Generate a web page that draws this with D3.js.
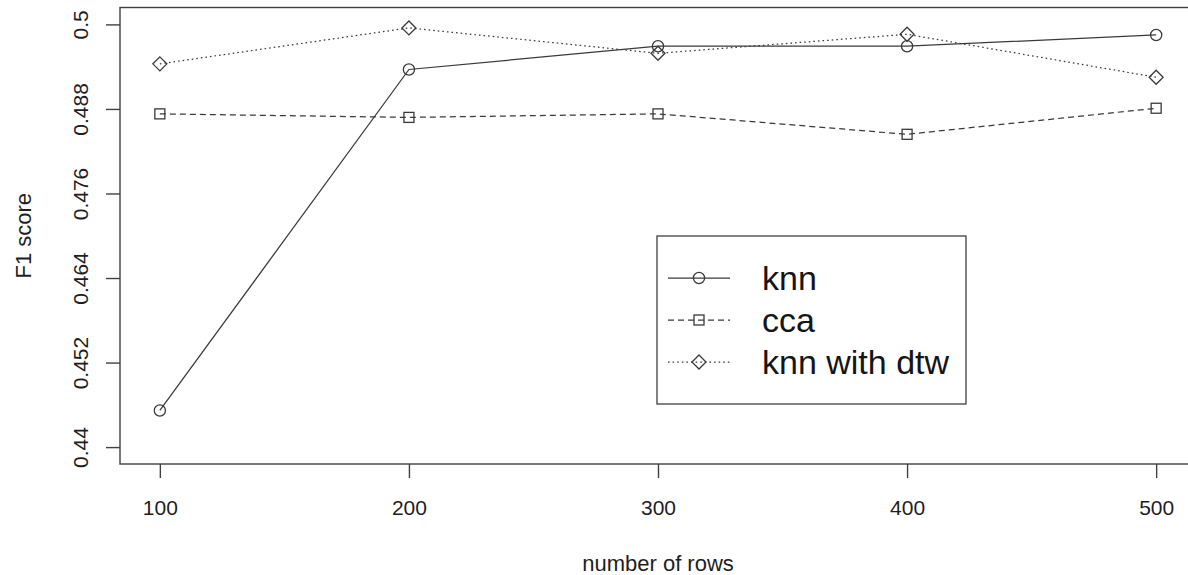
<!DOCTYPE html>
<html>
<head>
<meta charset="utf-8">
<script src="https://cdn.jsdelivr.net/npm/d3@7"></script>
<style>
  html, body { margin: 0; padding: 0; background: #fff; }
  svg { display: block; font-family: "Liberation Sans", Arial, Helvetica, sans-serif; }
</style>
</head>
<body>
<svg id="chart" width="1188" height="575"></svg>
<script>
// Sample sizes (number of rows) on the x axis
const rows = [100, 200, 300, 400, 500];

// F1 score per method
const knnScores = [0.4452, 0.4936, 0.4969, 0.4969, 0.4985];
const ccaScores = [0.4873, 0.4868, 0.4873, 0.4844, 0.4881];
const dtwScores = [0.4944, 0.4995, 0.4959, 0.4986, 0.4925];

// Axis ticks
const xTicks = [100, 200, 300, 400, 500];
const yTicks = [0.44, 0.452, 0.464, 0.476, 0.488, 0.5];
const yTickLabels = ["0.44", "0.452", "0.464", "0.476", "0.488", "0.5"];

const seriesNames = ["knn", "cca", "knn with dtw"];
const seriesValues = [knnScores, ccaScores, dtwScores];
const seriesDash = [null, "6,4", "1.6,3"];
const seriesSymbol = ["circle", "square", "diamond"];

const ink = "#3a3a3a";
const frameInk = "#404040";
const svg = d3.select("#chart");

const plot = { left: 120, right: 1196, top: 7.5, bottom: 464 };

const x = d3.scaleLinear().domain([84, 516]).range([plot.left, plot.right]);
const y = d3.scaleLinear().domain([0.4376, 0.5024]).range([plot.bottom, plot.top]);

// Plot frame
svg.append("rect")
  .attr("x", plot.left).attr("y", plot.top)
  .attr("width", plot.right - plot.left).attr("height", plot.bottom - plot.top)
  .attr("fill", "none").attr("stroke", frameInk).attr("stroke-width", 1.4);

// X axis (ticks below the frame)
const xAxis = d3.axisBottom(x).tickValues(xTicks).tickSize(14).tickPadding(22)
  .tickFormat(d3.format("d"));
const gx = svg.append("g").attr("transform", `translate(0,${plot.bottom})`).call(xAxis);
gx.select(".domain").remove();
gx.selectAll(".tick line").attr("stroke", frameInk).attr("stroke-width", 1.4);
gx.selectAll(".tick text").attr("fill", "#1e1e1e").attr("font-size", 21)
  .attr("font-family", "Liberation Sans, Arial, sans-serif");

// Y axis (labels rotated parallel to the axis)
const yAxis = d3.axisLeft(y).tickValues(yTicks).tickSize(14)
  .tickFormat((d, i) => yTickLabels[i]);
const gy = svg.append("g").attr("transform", `translate(${plot.left},0)`).call(yAxis);
gy.select(".domain").remove();
gy.selectAll(".tick line").attr("stroke", frameInk).attr("stroke-width", 1.4);
gy.selectAll(".tick text")
  .attr("fill", "#1e1e1e").attr("font-size", 21)
  .attr("font-family", "Liberation Sans, Arial, sans-serif")
  .attr("x", null).attr("dy", null)
  .attr("text-anchor", "middle")
  .attr("transform", "translate(-40,0) rotate(-90)")
  .attr("dominant-baseline", "central");

// Axis titles
svg.append("text")
  .attr("x", (plot.left + plot.right) / 2).attr("y", 571)
  .attr("text-anchor", "middle").attr("font-size", 22).attr("fill", "#1e1e1e")
  .text("number of rows");
svg.append("text")
  .attr("transform", `translate(23,${(plot.top + plot.bottom) / 2}) rotate(-90)`)
  .attr("text-anchor", "middle").attr("dominant-baseline", "central")
  .attr("font-size", 22).attr("fill", "#1e1e1e")
  .text("F1 score");

// Marker drawing
function drawSymbol(g, kind, cx, cy) {
  if (kind === "circle") {
    g.append("circle").attr("cx", cx).attr("cy", cy).attr("r", 5.6)
      .attr("fill", "none").attr("stroke", ink).attr("stroke-width", 1.3);
  } else if (kind === "square") {
    const h = 5;
    g.append("rect").attr("x", cx - h).attr("y", cy - h).attr("width", 2 * h).attr("height", 2 * h)
      .attr("fill", "none").attr("stroke", ink).attr("stroke-width", 1.3);
  } else {
    const h = 7;
    g.append("path")
      .attr("d", `M${cx},${cy - h}L${cx + h},${cy}L${cx},${cy + h}L${cx - h},${cy}Z`)
      .attr("fill", "none").attr("stroke", ink).attr("stroke-width", 1.3);
  }
}

// Series lines with overplotted markers
const line = d3.line().x(d => x(d[0])).y(d => y(d[1]));
seriesValues.forEach((vals, s) => {
  const pts = rows.map((r, i) => [r, vals[i]]);
  const g = svg.append("g");
  const p = g.append("path").datum(pts).attr("d", line)
    .attr("fill", "none").attr("stroke", ink).attr("stroke-width", 1.25);
  if (seriesDash[s]) p.attr("stroke-dasharray", seriesDash[s]);
  pts.forEach(d => drawSymbol(g, seriesSymbol[s], x(d[0]), y(d[1])));
});

// Legend
const lg = svg.append("g");
lg.append("rect").attr("x", 657).attr("y", 236).attr("width", 309).attr("height", 168)
  .attr("fill", "#fff").attr("stroke", frameInk).attr("stroke-width", 1.3);
const rowY = [278, 320, 362];
seriesNames.forEach((name, s) => {
  const yy = rowY[s];
  const l = lg.append("line").attr("x1", 668).attr("x2", 730).attr("y1", yy).attr("y2", yy)
    .attr("stroke", ink).attr("stroke-width", 1.25);
  if (seriesDash[s]) l.attr("stroke-dasharray", seriesDash[s]);
  drawSymbol(lg, seriesSymbol[s], 699, yy);
  lg.append("text").attr("x", 762).attr("y", yy).attr("dominant-baseline", "central")
    .attr("font-size", 34).attr("fill", "#151515").text(name);
});
</script>
</body>
</html>
